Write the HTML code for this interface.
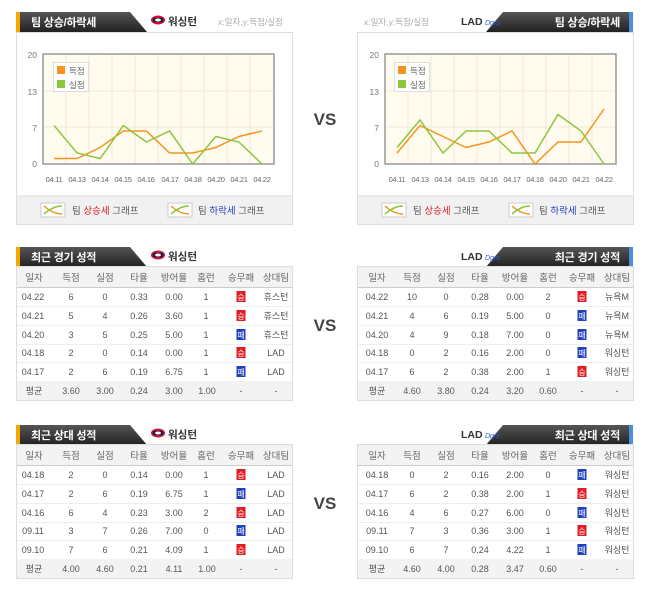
<!DOCTYPE html>
<html><head><meta charset="utf-8"><style>
html,body{margin:0;padding:0;background:#fff;}
svg{display:block;}
text{font-family:"Liberation Sans","Noto Sans CJK KR",sans-serif;}
.t{font-size:9px;fill:#555;text-anchor:middle;}
.h{font-size:9.5px;fill:#666;text-anchor:middle;}
.tab{font-size:11px;fill:#fff;font-weight:bold;letter-spacing:-0.2px;}
.team{font-size:10.5px;fill:#333;font-weight:bold;}
.ax{font-size:8.5px;fill:#777;}
.xl{font-size:7.5px;fill:#666;letter-spacing:-0.3px;}
.vs{font-size:17px;fill:#444;font-weight:bold;text-anchor:middle;}
</style></head><body>
<svg width="650" height="592" viewBox="0 0 650 592" xmlns="http://www.w3.org/2000/svg">
<defs>
<linearGradient id="dk" x1="0" y1="0" x2="0" y2="1"><stop offset="0" stop-color="#555"/><stop offset="1" stop-color="#222"/></linearGradient>
<g id="icon"><rect x="0" y="0" width="24" height="14" fill="#fff" stroke="#ccc"/><path d="M3,3 Q12,11 21,11" stroke="#f7941d" fill="none" stroke-width="1.5"/><path d="M3,11 Q12,3 21,3" stroke="#8dc63f" fill="none" stroke-width="1.5"/></g>
<g id="wlogo"><ellipse cx="7" cy="5" rx="7" ry="4.5" fill="#c8102e"/><rect x="2" y="3" width="10" height="4" fill="#14225a"/><ellipse cx="7" cy="5" rx="3" ry="1.5" fill="#fff"/></g>
<g id="win"><rect x="-4.5" y="-6" width="9" height="11" fill="#e31b23"/><text x="0" y="3" font-size="8" fill="#fff" text-anchor="middle">승</text></g>
<g id="lose"><rect x="-4.5" y="-6" width="9" height="11" fill="#2040c0"/><text x="0" y="3" font-size="8" fill="#fff" text-anchor="middle">패</text></g>
</defs>

<!-- ===== LEFT CHART ===== -->
<path d="M16,12 L130,12 L147,32 L16,32 Z" fill="url(#dk)"/>
<rect x="16" y="12" width="4" height="20" fill="#f7a600"/>
<text class="tab" x="31" y="26">팀 상승/하락세</text>
<use href="#wlogo" x="151" y="15"/>
<text class="team" x="168" y="25">워싱턴</text>
<text x="218" y="25" font-size="8.5" fill="#aaa">x:일자,y:득점/실점</text>
<rect x="16.5" y="32.5" width="276" height="192" fill="#fff" stroke="#ddd"/>
<rect x="17" y="196" width="275" height="28" fill="#f1f1f1"/>
<line x1="17" y1="196" x2="292" y2="196" stroke="#ddd"/>
<rect x="43" y="54" width="231" height="110" fill="#fffbef" stroke="#999" stroke-width="1.5"/>
<g stroke="#f0ead8" stroke-width="1">
<line x1="66" y1="55" x2="66" y2="163"/><line x1="89" y1="55" x2="89" y2="163"/><line x1="112" y1="55" x2="112" y2="163"/><line x1="135" y1="55" x2="135" y2="163"/><line x1="158" y1="55" x2="158" y2="163"/><line x1="181" y1="55" x2="181" y2="163"/><line x1="204" y1="55" x2="204" y2="163"/><line x1="227" y1="55" x2="227" y2="163"/><line x1="250" y1="55" x2="250" y2="163"/>
<line x1="44" y1="91" x2="273" y2="91"/><line x1="44" y1="127" x2="273" y2="127"/>
</g>
<g class="ax" text-anchor="end"><text x="37" y="58">20</text><text x="37" y="95">13</text><text x="37" y="131">7</text><text x="37" y="167">0</text></g>
<g class="xl" text-anchor="middle"><text x="54" y="182">04.11</text><text x="77" y="182">04.13</text><text x="100" y="182">04.14</text><text x="123" y="182">04.15</text><text x="146" y="182">04.16</text><text x="170" y="182">04.17</text><text x="193" y="182">04.18</text><text x="216" y="182">04.20</text><text x="239" y="182">04.21</text><text x="262" y="182">04.22</text></g>
<rect x="53.5" y="62.5" width="35" height="29" fill="#fff" stroke="#ddd"/>
<rect x="57" y="66" width="8" height="8" fill="#f7941d"/><text x="69" y="74" font-size="8.5" fill="#666">득점</text>
<rect x="57" y="80" width="8" height="8" fill="#8dc63f"/><text x="69" y="88" font-size="8.5" fill="#666">실점</text>
<polyline fill="none" stroke="#f7941d" stroke-width="1.5" points="54,158.5 77.1,158.5 100.2,147.5 123.3,131 146.4,131 169.6,153 192.7,153 215.8,147.5 238.9,136.5 262,131"/>
<polyline fill="none" stroke="#8dc63f" stroke-width="1.5" points="54,125.5 77.1,153 100.2,158.5 123.3,125.5 146.4,142 169.6,131 192.7,164 215.8,136.5 238.9,142 262,164"/>
<use href="#icon" x="41" y="203"/>
<text x="72" y="214" font-size="9.5" fill="#555">팀 <tspan fill="#e31b23">상승세</tspan> 그래프</text>
<use href="#icon" x="168" y="203"/>
<text x="198" y="214" font-size="9.5" fill="#555">팀 <tspan fill="#2040c0">하락세</tspan> 그래프</text>

<!-- ===== RIGHT CHART ===== -->
<path d="M503,12 L633,12 L633,32 L486,32 Z" fill="url(#dk)"/>
<rect x="629" y="12" width="4" height="20" fill="#4a90e2"/>
<text class="tab" x="620" y="26" text-anchor="end">팀 상승/하락세</text>
<text class="team" x="461" y="25">LAD</text>
<text x="485" y="25" font-size="7" fill="#2a5bd7" font-style="italic">Dgrs</text>
<text x="364" y="25" font-size="8.5" fill="#aaa">x:일자,y:득점/실점</text>
<rect x="357.5" y="32.5" width="276" height="192" fill="#fff" stroke="#ddd"/>
<rect x="358" y="196" width="275" height="28" fill="#f1f1f1"/>
<line x1="358" y1="196" x2="633" y2="196" stroke="#ddd"/>
<rect x="385" y="54" width="231" height="110" fill="#fffbef" stroke="#999" stroke-width="1.5"/>
<g stroke="#f0ead8" stroke-width="1">
<line x1="408" y1="55" x2="408" y2="163"/><line x1="431" y1="55" x2="431" y2="163"/><line x1="454" y1="55" x2="454" y2="163"/><line x1="477" y1="55" x2="477" y2="163"/><line x1="500" y1="55" x2="500" y2="163"/><line x1="523" y1="55" x2="523" y2="163"/><line x1="546" y1="55" x2="546" y2="163"/><line x1="569" y1="55" x2="569" y2="163"/><line x1="592" y1="55" x2="592" y2="163"/>
<line x1="386" y1="91" x2="615" y2="91"/><line x1="386" y1="127" x2="615" y2="127"/>
</g>
<g class="ax" text-anchor="end"><text x="379" y="58">20</text><text x="379" y="95">13</text><text x="379" y="131">7</text><text x="379" y="167">0</text></g>
<g class="xl" text-anchor="middle"><text x="397" y="182">04.11</text><text x="420" y="182">04.13</text><text x="443" y="182">04.14</text><text x="466" y="182">04.15</text><text x="489" y="182">04.16</text><text x="512" y="182">04.17</text><text x="535" y="182">04.18</text><text x="558" y="182">04.20</text><text x="581" y="182">04.21</text><text x="604" y="182">04.22</text></g>
<rect x="394.5" y="62.5" width="35" height="29" fill="#fff" stroke="#ddd"/>
<rect x="398" y="66" width="8" height="8" fill="#f7941d"/><text x="410" y="74" font-size="8.5" fill="#666">득점</text>
<rect x="398" y="80" width="8" height="8" fill="#8dc63f"/><text x="410" y="88" font-size="8.5" fill="#666">실점</text>
<polyline fill="none" stroke="#f7941d" stroke-width="1.5" points="397,153 420,125.5 443,136.5 466,147.5 489,142 512,131 535,164 558,142 581,142 604,109"/>
<polyline fill="none" stroke="#8dc63f" stroke-width="1.5" points="397,147.5 420,120 443,153 466,131 489,131 512,153 535,153 558,114.5 581,131 604,164"/>
<use href="#icon" x="382" y="203"/>
<text x="413" y="214" font-size="9.5" fill="#555">팀 <tspan fill="#e31b23">상승세</tspan> 그래프</text>
<use href="#icon" x="509" y="203"/>
<text x="539" y="214" font-size="9.5" fill="#555">팀 <tspan fill="#2040c0">하락세</tspan> 그래프</text>

<text class="vs" x="325" y="125">VS</text>
<text class="vs" x="325" y="331">VS</text>
<text class="vs" x="325" y="509">VS</text>

<!-- ===== TABLE 1 LEFT ===== -->
<path d="M16,247 L130,247 L147,267 L16,267 Z" fill="url(#dk)"/>
<rect x="16" y="247" width="4" height="20" fill="#f7a600"/>
<text class="tab" x="31" y="261">최근 경기 성적</text>
<use href="#wlogo" x="151" y="250"/>
<text class="team" x="168" y="260">워싱턴</text>
<rect x="16.5" y="266.5" width="276" height="134" fill="#fff" stroke="#ddd"/>
<rect x="17" y="267" width="275" height="20" fill="#f3f3f3"/>
<rect x="17" y="381" width="275" height="19" fill="#f3f3f3"/>
<line x1="17" y1="287.5" x2="292" y2="287.5" stroke="#ccc"/>
<g stroke="#eee"><line x1="17" y1="306.5" x2="292" y2="306.5"/><line x1="17" y1="325.5" x2="292" y2="325.5"/><line x1="17" y1="344.5" x2="292" y2="344.5"/><line x1="17" y1="362.5" x2="292" y2="362.5"/></g>
<g class="h"><text x="34" y="281">일자</text><text x="71" y="281">득점</text><text x="105" y="281">실점</text><text x="139" y="281">타율</text><text x="174" y="281">방어율</text><text x="206" y="281">홈런</text><text x="241" y="281">승무패</text><text x="276" y="281">상대팀</text></g>
<g class="t">
<text x="33" y="300">04.22</text><text x="71" y="300">6</text><text x="105" y="300">0</text><text x="139" y="300">0.33</text><text x="174" y="300">0.00</text><text x="206" y="300">1</text><text x="276" y="300">휴스턴</text>
<text x="33" y="319">04.21</text><text x="71" y="319">5</text><text x="105" y="319">4</text><text x="139" y="319">0.26</text><text x="174" y="319">3.60</text><text x="206" y="319">1</text><text x="276" y="319">휴스턴</text>
<text x="33" y="338">04.20</text><text x="71" y="338">3</text><text x="105" y="338">5</text><text x="139" y="338">0.25</text><text x="174" y="338">5.00</text><text x="206" y="338">1</text><text x="276" y="338">휴스턴</text>
<text x="33" y="356">04.18</text><text x="71" y="356">2</text><text x="105" y="356">0</text><text x="139" y="356">0.14</text><text x="174" y="356">0.00</text><text x="206" y="356">1</text><text x="276" y="356">LAD</text>
<text x="33" y="375">04.17</text><text x="71" y="375">2</text><text x="105" y="375">6</text><text x="139" y="375">0.19</text><text x="174" y="375">6.75</text><text x="206" y="375">1</text><text x="276" y="375">LAD</text>
<text x="34" y="394">평균</text><text x="71" y="394">3.60</text><text x="105" y="394">3.00</text><text x="139" y="394">0.24</text><text x="174" y="394">3.00</text><text x="207" y="394">1.00</text><text x="241" y="394">-</text><text x="276" y="394">-</text>
</g>
<use href="#win" x="241" y="297"/><use href="#win" x="241" y="316"/><use href="#lose" x="241" y="335"/><use href="#win" x="241" y="353"/><use href="#lose" x="241" y="372"/>

<!-- ===== TABLE 1 RIGHT ===== -->
<path d="M503,247 L633,247 L633,267 L486,267 Z" fill="url(#dk)"/>
<rect x="629" y="247" width="4" height="20" fill="#4a90e2"/>
<text class="tab" x="620" y="261" text-anchor="end">최근 경기 성적</text>
<text class="team" x="461" y="260">LAD</text>
<text x="485" y="260" font-size="7" fill="#2a5bd7" font-style="italic">Dgrs</text>
<rect x="357.5" y="266.5" width="276" height="134" fill="#fff" stroke="#ddd"/>
<rect x="358" y="267" width="275" height="20" fill="#f3f3f3"/>
<rect x="358" y="381" width="275" height="19" fill="#f3f3f3"/>
<line x1="358" y1="287.5" x2="633" y2="287.5" stroke="#ccc"/>
<g stroke="#eee"><line x1="358" y1="306.5" x2="633" y2="306.5"/><line x1="358" y1="325.5" x2="633" y2="325.5"/><line x1="358" y1="344.5" x2="633" y2="344.5"/><line x1="358" y1="362.5" x2="633" y2="362.5"/></g>
<g class="h"><text x="377" y="281">일자</text><text x="412" y="281">득점</text><text x="446" y="281">실점</text><text x="480" y="281">타율</text><text x="515" y="281">방어율</text><text x="548" y="281">홈런</text><text x="582" y="281">승무패</text><text x="617" y="281">상대팀</text></g>
<g class="t">
<text x="377" y="300">04.22</text><text x="412" y="300">10</text><text x="446" y="300">0</text><text x="480" y="300">0.28</text><text x="515" y="300">0.00</text><text x="548" y="300">2</text><text x="617" y="300">뉴욕M</text>
<text x="377" y="319">04.21</text><text x="412" y="319">4</text><text x="446" y="319">6</text><text x="480" y="319">0.19</text><text x="515" y="319">5.00</text><text x="548" y="319">0</text><text x="617" y="319">뉴욕M</text>
<text x="377" y="338">04.20</text><text x="412" y="338">4</text><text x="446" y="338">9</text><text x="480" y="338">0.18</text><text x="515" y="338">7.00</text><text x="548" y="338">0</text><text x="617" y="338">뉴욕M</text>
<text x="377" y="356">04.18</text><text x="412" y="356">0</text><text x="446" y="356">2</text><text x="480" y="356">0.16</text><text x="515" y="356">2.00</text><text x="548" y="356">0</text><text x="617" y="356">워싱턴</text>
<text x="377" y="375">04.17</text><text x="412" y="375">6</text><text x="446" y="375">2</text><text x="480" y="375">0.38</text><text x="515" y="375">2.00</text><text x="548" y="375">1</text><text x="617" y="375">워싱턴</text>
<text x="377" y="394">평균</text><text x="412" y="394">4.60</text><text x="446" y="394">3.80</text><text x="480" y="394">0.24</text><text x="515" y="394">3.20</text><text x="548" y="394">0.60</text><text x="582" y="394">-</text><text x="617" y="394">-</text>
</g>
<use href="#win" x="582" y="297"/><use href="#lose" x="582" y="316"/><use href="#lose" x="582" y="335"/><use href="#lose" x="582" y="353"/><use href="#win" x="582" y="372"/>

<!-- ===== TABLE 2 LEFT ===== -->
<path d="M16,425 L130,425 L147,445 L16,445 Z" fill="url(#dk)"/>
<rect x="16" y="425" width="4" height="20" fill="#f7a600"/>
<text class="tab" x="31" y="439">최근 상대 성적</text>
<use href="#wlogo" x="151" y="428"/>
<text class="team" x="168" y="438">워싱턴</text>
<rect x="16.5" y="444.5" width="276" height="134" fill="#fff" stroke="#ddd"/>
<rect x="17" y="445" width="275" height="20" fill="#f3f3f3"/>
<rect x="17" y="559" width="275" height="19" fill="#f3f3f3"/>
<line x1="17" y1="465.5" x2="292" y2="465.5" stroke="#ccc"/>
<g stroke="#eee"><line x1="17" y1="484.5" x2="292" y2="484.5"/><line x1="17" y1="503.5" x2="292" y2="503.5"/><line x1="17" y1="522.5" x2="292" y2="522.5"/><line x1="17" y1="540.5" x2="292" y2="540.5"/></g>
<g class="h"><text x="34" y="459">일자</text><text x="71" y="459">득점</text><text x="105" y="459">실점</text><text x="139" y="459">타율</text><text x="174" y="459">방어율</text><text x="206" y="459">홈런</text><text x="241" y="459">승무패</text><text x="276" y="459">상대팀</text></g>
<g class="t">
<text x="33" y="478">04.18</text><text x="71" y="478">2</text><text x="105" y="478">0</text><text x="139" y="478">0.14</text><text x="174" y="478">0.00</text><text x="206" y="478">1</text><text x="276" y="478">LAD</text>
<text x="33" y="497">04.17</text><text x="71" y="497">2</text><text x="105" y="497">6</text><text x="139" y="497">0.19</text><text x="174" y="497">6.75</text><text x="206" y="497">1</text><text x="276" y="497">LAD</text>
<text x="33" y="516">04.16</text><text x="71" y="516">6</text><text x="105" y="516">4</text><text x="139" y="516">0.23</text><text x="174" y="516">3.00</text><text x="206" y="516">2</text><text x="276" y="516">LAD</text>
<text x="33" y="534">09.11</text><text x="71" y="534">3</text><text x="105" y="534">7</text><text x="139" y="534">0.26</text><text x="174" y="534">7.00</text><text x="206" y="534">0</text><text x="276" y="534">LAD</text>
<text x="33" y="553">09.10</text><text x="71" y="553">7</text><text x="105" y="553">6</text><text x="139" y="553">0.21</text><text x="174" y="553">4.09</text><text x="206" y="553">1</text><text x="276" y="553">LAD</text>
<text x="34" y="572">평균</text><text x="71" y="572">4.00</text><text x="105" y="572">4.60</text><text x="139" y="572">0.21</text><text x="174" y="572">4.11</text><text x="207" y="572">1.00</text><text x="241" y="572">-</text><text x="276" y="572">-</text>
</g>
<use href="#win" x="241" y="475"/><use href="#lose" x="241" y="494"/><use href="#win" x="241" y="513"/><use href="#lose" x="241" y="531"/><use href="#win" x="241" y="550"/>

<!-- ===== TABLE 2 RIGHT ===== -->
<path d="M503,425 L633,425 L633,445 L486,445 Z" fill="url(#dk)"/>
<rect x="629" y="425" width="4" height="20" fill="#4a90e2"/>
<text class="tab" x="620" y="439" text-anchor="end">최근 상대 성적</text>
<text class="team" x="461" y="438">LAD</text>
<text x="485" y="438" font-size="7" fill="#2a5bd7" font-style="italic">Dgrs</text>
<rect x="357.5" y="444.5" width="276" height="134" fill="#fff" stroke="#ddd"/>
<rect x="358" y="445" width="275" height="20" fill="#f3f3f3"/>
<rect x="358" y="559" width="275" height="19" fill="#f3f3f3"/>
<line x1="358" y1="465.5" x2="633" y2="465.5" stroke="#ccc"/>
<g stroke="#eee"><line x1="358" y1="484.5" x2="633" y2="484.5"/><line x1="358" y1="503.5" x2="633" y2="503.5"/><line x1="358" y1="522.5" x2="633" y2="522.5"/><line x1="358" y1="540.5" x2="633" y2="540.5"/></g>
<g class="h"><text x="377" y="459">일자</text><text x="412" y="459">득점</text><text x="446" y="459">실점</text><text x="480" y="459">타율</text><text x="515" y="459">방어율</text><text x="548" y="459">홈런</text><text x="582" y="459">승무패</text><text x="617" y="459">상대팀</text></g>
<g class="t">
<text x="377" y="478">04.18</text><text x="412" y="478">0</text><text x="446" y="478">2</text><text x="480" y="478">0.16</text><text x="515" y="478">2.00</text><text x="548" y="478">0</text><text x="617" y="478">워싱턴</text>
<text x="377" y="497">04.17</text><text x="412" y="497">6</text><text x="446" y="497">2</text><text x="480" y="497">0.38</text><text x="515" y="497">2.00</text><text x="548" y="497">1</text><text x="617" y="497">워싱턴</text>
<text x="377" y="516">04.16</text><text x="412" y="516">4</text><text x="446" y="516">6</text><text x="480" y="516">0.27</text><text x="515" y="516">6.00</text><text x="548" y="516">0</text><text x="617" y="516">워싱턴</text>
<text x="377" y="534">09.11</text><text x="412" y="534">7</text><text x="446" y="534">3</text><text x="480" y="534">0.36</text><text x="515" y="534">3.00</text><text x="548" y="534">1</text><text x="617" y="534">워싱턴</text>
<text x="377" y="553">09.10</text><text x="412" y="553">6</text><text x="446" y="553">7</text><text x="480" y="553">0.24</text><text x="515" y="553">4.22</text><text x="548" y="553">1</text><text x="617" y="553">워싱턴</text>
<text x="377" y="572">평균</text><text x="412" y="572">4.60</text><text x="446" y="572">4.00</text><text x="480" y="572">0.28</text><text x="515" y="572">3.47</text><text x="548" y="572">0.60</text><text x="582" y="572">-</text><text x="617" y="572">-</text>
</g>
<use href="#lose" x="582" y="475"/><use href="#win" x="582" y="494"/><use href="#lose" x="582" y="513"/><use href="#win" x="582" y="531"/><use href="#lose" x="582" y="550"/>
</svg>
</body></html>
